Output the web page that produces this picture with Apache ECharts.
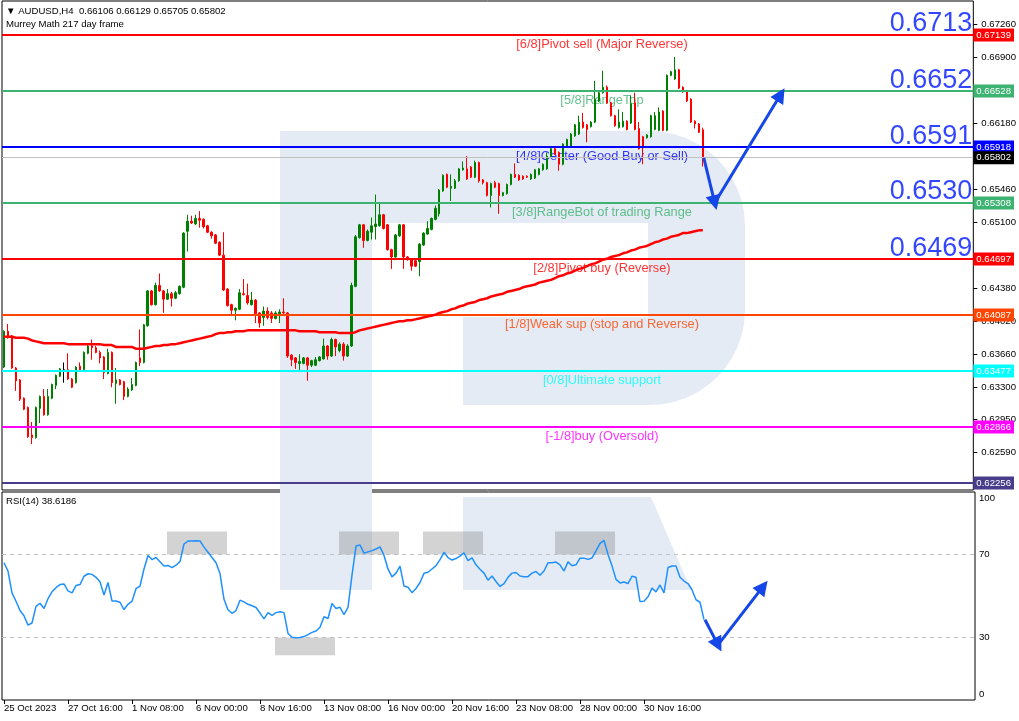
<!DOCTYPE html>
<html><head><meta charset="utf-8">
<script src="https://cdn.jsdelivr.net/npm/echarts@6/dist/echarts.min.js"></script>
<style>html,body{margin:0;padding:0;background:#fff}#c{width:1019px;height:721px}</style>
</head><body><div id="c"></div>
<script>
const opens=[0.6352,0.6391,0.6386,0.6351,0.6338,0.6318,0.6308,0.6278,0.6275,0.6307,
0.6320,0.6300,0.6318,0.6332,0.6342,0.6349,0.6349,0.6339,0.6335,0.6353,
0.6349,0.6367,0.6375,0.6373,0.6368,0.6363,0.6345,0.6368,0.6334,0.6338,
0.6336,0.6320,0.6327,0.6332,0.6362,0.6357,0.6397,0.6435,0.6420,0.6441,
0.6435,0.6426,0.6432,0.6427,0.6432,0.6439,0.6500,0.6511,0.6508,0.6514,
0.6513,0.6506,0.6499,0.6496,0.6488,0.6474,0.6437,0.6420,0.6414,0.6415,
0.6432,0.6430,0.6420,0.6425,0.6411,0.6406,0.6413,0.6411,0.6405,0.6408,
0.6412,0.6411,0.6365,0.6362,0.6356,0.6356,0.6362,0.6354,0.6354,0.6359,
0.6361,0.6375,0.6364,0.6382,0.6370,0.6377,0.6364,0.6375,0.6440,0.6493,
0.6507,0.6490,0.6499,0.6505,0.6506,0.6518,0.6507,0.6480,0.6472,0.6495,
0.6507,0.6472,0.6469,0.6468,0.6467,0.6485,0.6497,0.6502,0.6513,0.6519,
0.6544,0.6562,0.6547,0.6547,0.6555,0.6567,0.6568,0.6570,0.6559,0.6575,
0.6556,0.6553,0.6539,0.6553,0.6552,0.6539,0.6541,0.6551,0.6562,0.6561,
0.6560,0.6560,0.6557,0.6558,0.6562,0.6567,0.6568,0.6582,0.6590,0.6586,
0.6573,0.6593,0.6593,0.6604,0.6606,0.6619,0.6616,0.6614,0.6619,0.6642,
0.6651,0.6657,0.6640,0.6626,0.6613,0.6614,0.6620,0.6618,0.6640,0.6612,
0.6603,0.6602,0.6603,0.6611,0.6610,0.6631,0.6610,0.6670,0.6666,0.6676,
0.6657,0.6653,0.6644,0.6620,0.6617,0.66106];
const highs=[0.6392,0.6399,0.6387,0.6352,0.6339,0.6319,0.6309,0.6292,0.6309,0.6321,
0.6328,0.6328,0.6334,0.6344,0.6351,0.6357,0.6367,0.6340,0.6353,0.6357,
0.6369,0.6376,0.6382,0.6375,0.6370,0.6364,0.6372,0.6369,0.6351,0.6339,
0.6337,0.6330,0.6340,0.6358,0.6393,0.6399,0.6436,0.6436,0.6444,0.6454,
0.6436,0.6437,0.6434,0.6435,0.6441,0.6499,0.6518,0.6517,0.6518,0.6522,
0.6514,0.6507,0.6500,0.6497,0.6489,0.6499,0.6438,0.6421,0.6417,0.6437,
0.6448,0.6443,0.6434,0.6426,0.6412,0.6418,0.6417,0.6413,0.6413,0.6415,
0.6427,0.6412,0.6366,0.6363,0.6366,0.6363,0.6363,0.6360,0.6363,0.6364,
0.6383,0.6376,0.6384,0.6383,0.6379,0.6379,0.6377,0.6444,0.6496,0.6508,
0.6508,0.6502,0.6515,0.6540,0.6530,0.6519,0.6508,0.6481,0.6497,0.6508,
0.6508,0.6473,0.6470,0.6469,0.6487,0.6499,0.6511,0.6515,0.6528,0.6546,
0.6562,0.6563,0.6562,0.6557,0.6569,0.6576,0.6582,0.6571,0.6577,0.6576,
0.6557,0.6554,0.6553,0.6555,0.6553,0.6543,0.6552,0.6563,0.6574,0.6562,
0.6561,0.6561,0.6563,0.6568,0.6569,0.6574,0.6586,0.6591,0.6591,0.6587,
0.6596,0.6601,0.6607,0.6617,0.6626,0.6629,0.6617,0.6620,0.6664,0.6652,
0.6675,0.6659,0.6641,0.6627,0.6633,0.6630,0.6621,0.6648,0.6651,0.6619,
0.6604,0.6606,0.6627,0.6630,0.6635,0.6632,0.6671,0.6675,0.6690,0.6677,
0.6658,0.6654,0.6645,0.6621,0.6618,0.66129];
const lows=[0.6351,0.6383,0.6350,0.6326,0.6315,0.6305,0.6275,0.6268,0.6274,0.6291,
0.6299,0.6299,0.6317,0.6328,0.6341,0.6335,0.6338,0.6329,0.6334,0.6348,
0.6348,0.6366,0.6360,0.6367,0.6356,0.6339,0.6344,0.6330,0.6312,0.6332,
0.6316,0.6319,0.6326,0.6331,0.6353,0.6356,0.6396,0.6419,0.6419,0.6434,
0.6411,0.6425,0.6418,0.6426,0.6431,0.6438,0.6478,0.6508,0.6507,0.6504,
0.6503,0.6498,0.6492,0.6486,0.6473,0.6435,0.6418,0.6408,0.6403,0.6414,
0.6430,0.6420,0.6419,0.6400,0.6395,0.6397,0.6404,0.6400,0.6404,0.6400,
0.6410,0.6362,0.6353,0.6350,0.6349,0.6355,0.6337,0.6352,0.6353,0.6358,
0.6360,0.6360,0.6363,0.6364,0.6368,0.6359,0.6363,0.6374,0.6439,0.6492,
0.6482,0.6489,0.6491,0.6491,0.6505,0.6502,0.6479,0.6459,0.6471,0.6494,
0.6459,0.6468,0.6457,0.6461,0.6451,0.6484,0.6496,0.6501,0.6512,0.6516,
0.6543,0.6547,0.6533,0.6546,0.6554,0.6566,0.6556,0.6558,0.6558,0.6553,
0.6551,0.6538,0.6526,0.6547,0.6519,0.6538,0.6540,0.6550,0.6558,0.6555,
0.6556,0.6558,0.6556,0.6557,0.6561,0.6566,0.6567,0.6581,0.6583,0.6566,
0.6572,0.6592,0.6592,0.6603,0.6605,0.6612,0.6597,0.6613,0.6618,0.6641,
0.6650,0.6639,0.6625,0.6614,0.6612,0.6613,0.6610,0.6617,0.6610,0.6589,
0.6573,0.6601,0.6602,0.6610,0.6609,0.6609,0.6609,0.6669,0.6665,0.6655,
0.6651,0.6641,0.6618,0.6612,0.6607,0.65705];
const closes=[0.6391,0.6384,0.6351,0.6337,0.6317,0.6306,0.6276,0.6275,0.6308,0.6320,
0.6300,0.6320,0.6333,0.6343,0.6350,0.6349,0.6339,0.6330,0.6352,0.6349,
0.6368,0.6375,0.6373,0.6368,0.6362,0.6346,0.6368,0.6335,0.6338,0.6333,
0.6320,0.6328,0.6333,0.6357,0.6357,0.6398,0.6435,0.6420,0.6441,0.6435,
0.6426,0.6432,0.6427,0.6433,0.6440,0.6498,0.6511,0.6509,0.6514,0.6512,
0.6505,0.6499,0.6495,0.6487,0.6474,0.6436,0.6419,0.6414,0.6416,0.6433,
0.6431,0.6422,0.6425,0.6410,0.6400,0.6413,0.6406,0.6405,0.6411,0.6412,
0.6411,0.6364,0.6360,0.6357,0.6358,0.6362,0.6354,0.6359,0.6360,0.6363,
0.6375,0.6364,0.6382,0.6374,0.6377,0.6364,0.6375,0.6441,0.6494,0.6507,
0.6490,0.6500,0.6506,0.6508,0.6518,0.6503,0.6480,0.6472,0.6496,0.6507,
0.6472,0.6469,0.6462,0.6462,0.6486,0.6498,0.6503,0.6514,0.6525,0.6545,
0.6561,0.6548,0.6549,0.6555,0.6568,0.6569,0.6557,0.6559,0.6575,0.6555,
0.6553,0.6539,0.6552,0.6548,0.6539,0.6542,0.6551,0.6562,0.6559,0.6556,
0.6557,0.6559,0.6562,0.6567,0.6568,0.6573,0.6582,0.6590,0.6584,0.6573,
0.6595,0.6600,0.6606,0.6616,0.6619,0.6613,0.6611,0.6619,0.6644,0.6651,
0.6657,0.6640,0.6626,0.6615,0.6619,0.6620,0.6611,0.6639,0.6611,0.6590,
0.6591,0.6605,0.6626,0.6626,0.6630,0.6610,0.6670,0.6674,0.6676,0.6656,
0.6652,0.6642,0.6619,0.6617,0.6608,0.65802];
const ma217=[0.6385,0.6385,0.6385,0.6384,0.6384,0.6384,0.6383,0.6381,0.6380,0.6379,
0.6378,0.6378,0.6378,0.6378,0.6378,0.6378,0.6377,0.6377,0.6377,0.6377,
0.6377,0.6377,0.6377,0.6377,0.6377,0.6376,0.6376,0.6376,0.6374,0.6374,
0.6374,0.6374,0.6374,0.6372,0.6372,0.6372,0.6373,0.6374,0.6375,0.6375,
0.6376,0.6376,0.6377,0.6377,0.6378,0.6379,0.6380,0.6381,0.6382,0.6383,
0.6384,0.6385,0.6386,0.6388,0.6389,0.6389,0.6390,0.6390,0.6391,0.6391,
0.6391,0.6392,0.6392,0.6392,0.6392,0.6392,0.6392,0.6392,0.6392,0.6392,
0.6392,0.6392,0.6392,0.6392,0.6391,0.6391,0.6391,0.6391,0.6391,0.6390,
0.6390,0.6390,0.6390,0.6390,0.6389,0.6389,0.6389,0.6389,0.6390,0.6392,
0.6393,0.6394,0.6395,0.6396,0.6397,0.6398,0.6399,0.6400,0.6401,0.6402,
0.6402,0.6403,0.6403,0.6404,0.6405,0.6406,0.6407,0.6408,0.6409,0.6411,
0.6412,0.6413,0.6415,0.6416,0.6418,0.6419,0.6421,0.6422,0.6423,0.6425,
0.6426,0.6427,0.6429,0.6430,0.6431,0.6432,0.6434,0.6435,0.6436,0.6437,
0.6439,0.6440,0.6441,0.6442,0.6444,0.6445,0.6446,0.6447,0.6449,0.6451,
0.6452,0.6454,0.6455,0.6457,0.6459,0.6460,0.6462,0.6464,0.6465,0.6467,
0.6469,0.6470,0.6472,0.6473,0.6474,0.6476,0.6477,0.6479,0.6480,0.6482,
0.6483,0.6484,0.6486,0.6488,0.6489,0.6491,0.6492,0.6494,0.6495,0.6496,
0.6498,0.6498,0.6499,0.6500,0.6501,0.6501];
const rsi14=[66,62,51.5,47.5,43,40.5,36,37,45,46.5,
44,48.7,52,54,55.5,55.8,52.5,51.5,55,55.5,
59.5,60.7,60.4,59,56.8,50.5,56.5,47.6,47.6,47,
43.5,46,47.5,53.5,54.8,63,69.5,67.5,68.5,66.5,
64.4,64.7,63.6,64.8,66.5,75,76.4,76.4,76.6,76.5,
73.5,71,68.5,66,60.8,48.4,43.4,41.7,43,48,
47.2,46,45.3,44.5,41.8,39,42,40.7,42,42.4,
42,32,30.2,29.9,30,30.5,31.4,32.5,33.2,35,
40,39.2,46.4,44,44.6,41,44.5,60,74,74.5,
70.6,71.2,71.8,72.6,73.6,69.5,63,59.2,61,64.4,
54.8,54.2,51.6,53.6,56.5,60.9,61.4,63,64.6,67.5,
71,68.5,67.3,68,69.2,70.8,67,68.3,65,62.9,
61,57.6,59.6,57,54.6,55.9,59,61,61.3,59.6,
59.3,59.3,61,61.8,60,62,66,66,66.3,65,
62,66.4,64.5,65,68.2,68.2,67.6,68.3,71.7,75.3,
76.7,70,64.5,58,56.3,56.7,56,59.5,59,47.3,
47.5,49.6,53.8,52,55.3,51.5,63.7,64.4,64.4,59,
57.2,56,53,48.2,47,38.6186];
const dateTickIdx=[0,16,32,48,64,80,96,112,128,144,160];
const dateLabels=['25 Oct 2023','27 Oct 16:00','1 Nov 08:00','6 Nov 00:00','8 Nov 16:00','13 Nov 08:00','16 Nov 00:00','20 Nov 16:00','23 Nov 08:00','28 Nov 00:00','30 Nov 16:00'];
const priceTicks=[0.6726,0.6690,0.6618,0.6546,0.6510,0.6438,0.6402,0.6366,0.6330,0.6295,0.6259];
const rsiTicks=[0,30,70,100];
const levelPrices=[0.67139,0.66528,0.65918,0.65308,0.64697,0.64087,0.63477,0.62866,0.62256];
const levelNames=['[6/8]Pivot sell (Major Reverse)','[5/8]RangeTop','[4/8]Center (Good Buy or Sell)','[3/8]RangeBot of trading Range','[2/8]Pivot buy (Reverse)','[1/8]Weak sup (stop and Reverse)','[0/8]Ultimate support','[-1/8]buy (Oversold)','[-2/8]BUY(Extremely Oversold)'];
const bigLabels=['0.6713','0.6652','0.6591','0.6530','0.6469'];
const lastPrice=0.65802;
const headerOHLC=[0.66106,0.66129,0.65705,0.65802];
const rsiLast=38.6186;
const arrowMain=[[175.25,0.6580],[178,0.6531],[194.5,0.6649]];
const arrowRsi=[[175.25,38.6],[178.5,26.5],[189.75,54.5]];
const rsiBoxes=[[40.75,55.75,81,70],[83.75,98.75,81,70],[104.75,119.75,81,70],[137.75,152.75,81,70],[67.75,82.75,30,21.5]];

const levelColors=['#FF0000','#3CB371','#0000FF','#3CB371','#FF0000','#FF4500','#00FFFF','#FF00FF','#483D8B'];
const F="'Liberation Sans', Arial, sans-serif";
const WM='#E4EBF4';
const ARROW='#1446E8';
function arcPts(cx,cy,r,a0,a1){const p=[];for(let k=0;k<=12;k++){const a=(a0+(a1-a0)*k/12)*Math.PI/180;p.push([cx+r*Math.cos(a),cy+r*Math.sin(a)]);}return p;}
const bowl=[[372,131]].concat(arcPts(650,226,95,-90,0),arcPts(650,310,95,0,90),[[463,405],[463,317],[648,317],[648,223],[372,223]]);
const chart=echarts.init(document.getElementById('c'),null,{renderer:'canvas'});
const XMIN=-0.5, XMAX=242.75;
const txt=(s,l,t)=>({text:s,left:l,top:t,padding:0,textStyle:{fontSize:9.6,fontWeight:'normal',color:'#000',fontFamily:F}});
const arrowLines=pts=>pts.slice(1).map((p,k)=>[
  {coord:pts[k],symbol:'none',symbolSize:1},
  {coord:p,symbol:'triangle',symbolSize:15}]);
const option={
 animation:false,
 backgroundColor:'#fff',
 title:[
  txt('\u25BC AUDUSD,H4  '+headerOHLC.map(v=>v.toFixed(5)).join(' '),6,6),
  txt('Murrey Math 217 day frame',6,19),
  txt('RSI(14) '+rsiLast.toFixed(4),6,496)
 ],
 graphic:[{type:'group',z:-10,silent:true,children:[
  {type:'rect',shape:{x:280,y:131,width:92,height:459},style:{fill:WM}},
  {type:'polygon',shape:{points:bowl},style:{fill:WM}},
  {type:'polygon',shape:{points:[[463,497],[651,497],[691,590],[463,590]]},style:{fill:WM}}
 ]}],
 grid:[
  {left:2,top:1,width:973,height:489,show:true,borderColor:'#000',borderWidth:1},
  {left:2,top:492,width:973,height:208,show:true,borderColor:'#000',borderWidth:1}
 ],
 xAxis:[
  {type:'value',gridIndex:0,min:XMIN,max:XMAX,show:false},
  {type:'value',gridIndex:1,min:XMIN,max:XMAX,position:'bottom',
   axisLine:{show:false,onZero:false},splitLine:{show:false},
   axisTick:{show:true,customValues:dateTickIdx,length:4,lineStyle:{color:'#000'}},
   axisLabel:{customValues:dateTickIdx,formatter:v=>dateLabels[dateTickIdx.indexOf(v)],align:'left',margin:3,fontSize:9.6,color:'#000',fontFamily:F}}
 ],
 yAxis:[
  {type:'value',gridIndex:0,position:'right',min:0.6218,max:0.6751,
   axisLine:{show:false,onZero:false},splitLine:{show:false},
   axisTick:{show:true,customValues:priceTicks,length:4,lineStyle:{color:'#000'}},
   axisLabel:{customValues:priceTicks,formatter:v=>v.toFixed(5),margin:8,fontSize:9.6,color:'#000',fontFamily:F}},
  {type:'value',gridIndex:1,position:'right',min:0,max:100,
   axisLine:{show:false,onZero:false},splitLine:{show:false},
   axisTick:{show:false},
   axisLabel:{customValues:rsiTicks,margin:4,fontSize:9.6,color:'#000',fontFamily:F,
    formatter:v=>v===100?'{t|100}':(v===0?'{b|0}':String(v)),
    rich:{t:{padding:[12,0,0,0],fontSize:9.6,fontFamily:F,color:'#000'},b:{padding:[0,0,12,0],fontSize:9.6,fontFamily:F,color:'#000'}}}}
 ],
 series:[
  {type:'scatter',name:'levels',xAxisIndex:0,yAxisIndex:0,symbolSize:0,silent:true,z:3,
   data:levelPrices.slice(0,8).map((p,i)=>({value:[149.75,p],label:{color:levelColors[i]}})),
   label:{show:true,position:'inside',offset:[0,9],fontSize:12.8,fontFamily:F,formatter:p=>levelNames[p.dataIndex]},
   markLine:{silent:true,precision:6,symbol:['none','none'],animation:false,
    data:levelPrices.map((p,i)=>({yAxis:p,lineStyle:{color:levelColors[i],width:2,type:'solid'},
      label:{show:true,position:'end',distance:0,formatter:p.toFixed(5),backgroundColor:levelColors[i],color:'#fff',padding:[2,3,1,3],fontSize:9.6,fontFamily:F}}))
     .concat([{yAxis:lastPrice,lineStyle:{color:'#C0C0C0',width:1,type:'solid'},
      label:{show:true,position:'end',distance:0,formatter:lastPrice.toFixed(5),backgroundColor:'#000',color:'#fff',padding:[2,3,1,3],fontSize:9.6,fontFamily:F}}])}
  },
  {type:'candlestick',name:'AUDUSD',xAxisIndex:0,yAxisIndex:0,barWidth:2,z:4,
   dimensions:['x','open','close','low','high'],encode:{x:0,y:[1,2,3,4]},
   data:opens.map((o,i)=>[i,o,closes[i],lows[i],highs[i]]),
   itemStyle:{color:'#008000',color0:'#FF0000',borderColor:'#008000',borderColor0:'#FF0000',borderColorDoji:'#000000',borderWidth:1}},
  {type:'line',name:'MA',xAxisIndex:0,yAxisIndex:0,symbol:'none',z:5,
   data:ma217.map((v,i)=>[i,v]),lineStyle:{color:'#FF0000',width:2.5}},
  {type:'scatter',name:'bigLevels',xAxisIndex:0,yAxisIndex:0,symbolSize:0,silent:true,z:6,
   data:bigLabels.map((s,i)=>[242.5,levelPrices[i]]),
   label:{show:true,position:'inside',align:'right',offset:[0,-11],fontSize:27,color:'#0018FF',fontFamily:F,formatter:p=>bigLabels[p.dataIndex]}},
  {type:'line',name:'arrowMain',xAxisIndex:0,yAxisIndex:0,symbol:'none',silent:true,z:7,
   data:[],
   markLine:{silent:true,precision:6,symbol:['none','triangle'],symbolSize:15,label:{show:false},
    lineStyle:{color:ARROW,width:3,type:'solid'},
    data:arrowLines(arrowMain)}},
  {type:'line',name:'RSI',xAxisIndex:1,yAxisIndex:1,symbol:'none',z:5,
   data:rsi14.map((v,i)=>[i,v]),lineStyle:{color:'#1E90FF',width:1.5},
   markLine:{silent:true,symbol:['none','none'],label:{show:false},
    lineStyle:{color:'#C0C0C0',width:1,type:[4,4]},data:[{yAxis:70},{yAxis:30}]},
   markArea:{silent:true,itemStyle:{color:'rgba(128,128,128,0.35)'},
    data:rsiBoxes.map(b=>[{coord:[b[0],b[2]]},{coord:[b[1],b[3]]}])}},
  {type:'line',name:'arrowRsi',xAxisIndex:1,yAxisIndex:1,symbol:'none',silent:true,z:7,
   data:[],
   markLine:{silent:true,precision:6,symbol:['none','triangle'],symbolSize:15,label:{show:false},
    lineStyle:{color:ARROW,width:3,type:'solid'},
    data:arrowLines(arrowRsi)}}
 ]
};
chart.setOption(option);
</script></body></html>
